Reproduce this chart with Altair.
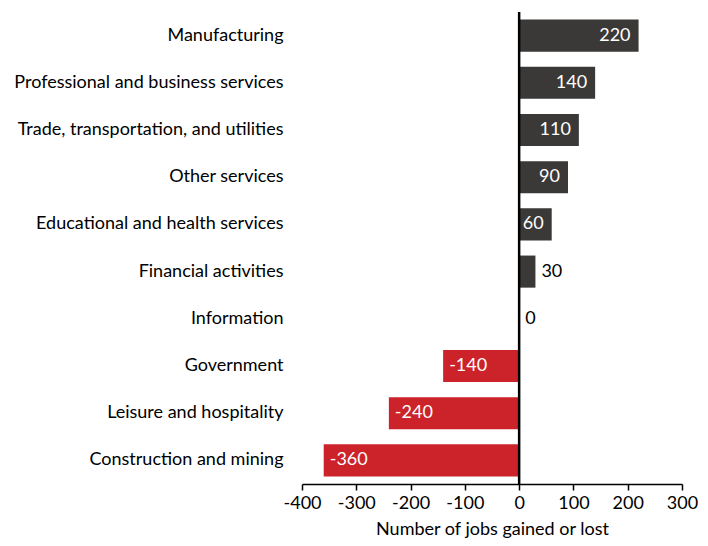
import altair as alt
import pandas as pd

categories = [
    "Manufacturing",
    "Professional and business services",
    "Trade, transportation, and utilities",
    "Other services",
    "Educational and health services",
    "Financial activities",
    "Information",
    "Government",
    "Leisure and hospitality",
    "Construction and mining",
]
values = [220, 140, 110, 90, 60, 30, 0, -140, -240, -360]
x_ticks = [-400, -300, -200, -100, 0, 100, 200, 300]

df = pd.DataFrame({"sector": categories, "jobs": values})

FONT = "Lato"
FS = 18

y_enc = alt.Y(
    "sector:N",
    sort=categories,
    title=None,
    scale=alt.Scale(paddingInner=0.32, paddingOuter=0.16),
    axis=alt.Axis(
        domain=False, ticks=False, labelFontSize=FS, labelFont=FONT,
        labelColor="#000000", labelPadding=19, labelLimit=400,
    ),
)
x_scale = alt.Scale(domain=[-400, 300], nice=False)
x_enc = alt.X(
    "jobs:Q",
    scale=x_scale,
    title="Number of jobs gained or lost",
    axis=alt.Axis(
        values=x_ticks,
        labelExpr="replace(datum.label, '\u2212', '-')",
        labelOverlap=False, labelFlush=False, labelBound=False,
        grid=False, domainColor="#000000", domainWidth=1.5,
        tickColor="#000000", tickWidth=1.5, tickSize=6,
        labelFontSize=FS, labelFont=FONT, labelColor="#000000", labelPadding=4,
        titleFontSize=FS, titleFont=FONT, titleFontWeight="normal",
        titleColor="#000000", titlePadding=8,
    ),
)

base = alt.Chart(df).transform_calculate(lbl="toString(datum.jobs)")

bars = base.mark_bar().encode(
    y=y_enc,
    x=x_enc,
    color=alt.condition(alt.datum.jobs < 0, alt.value("#cc2229"), alt.value("#3b3937")),
)

y_plain = alt.Y("sector:N", sort=categories)
x_plain = alt.X("jobs:Q", scale=x_scale)

lab_in_pos = base.transform_filter(alt.datum.jobs >= 60).mark_text(
    align="right", dx=-8, color="white", fontSize=FS, font=FONT
).encode(y=y_plain, x=x_plain, text="lbl:N")

lab_out_pos = base.transform_filter((alt.datum.jobs >= 0) & (alt.datum.jobs < 60)).mark_text(
    align="left", dx=6, color="black", fontSize=FS, font=FONT
).encode(y=y_plain, x=x_plain, text="lbl:N")

lab_neg = base.transform_filter(alt.datum.jobs < 0).mark_text(
    align="left", dx=6, color="white", fontSize=FS, font=FONT
).encode(y=y_plain, x=x_plain, text="lbl:N")

zero = alt.Chart(pd.DataFrame({"z": [0]})).mark_rule(color="black", strokeWidth=2.5).encode(
    x=alt.X("z:Q", scale=x_scale)
)

chart = (
    alt.layer(bars, lab_in_pos, lab_out_pos, lab_neg, zero)
    .properties(width=380, height=472,
                padding={"left": 5, "top": 2, "right": 0, "bottom": 0})
    .configure_view(stroke=None)
)

chart.save("out.html", embed_options={"renderer": "svg", "actions": False})
